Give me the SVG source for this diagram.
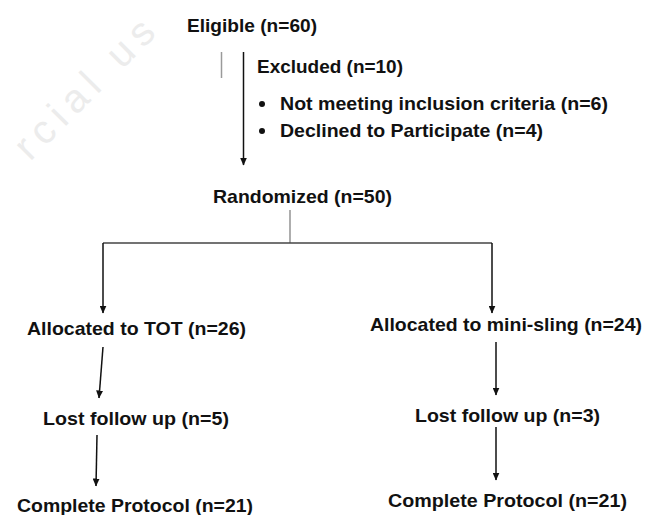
<svg xmlns="http://www.w3.org/2000/svg" width="647" height="515" viewBox="0 0 647 515">
  <style>
    .t { font-family: "Liberation Sans", Arial, sans-serif; font-weight: bold; font-size: 19px; fill: #111; }
    .wm { font-family: "Liberation Sans", Arial, sans-serif; font-size: 40px; fill: #ececec; }
    .ar { stroke: #111; stroke-width: 1.5; fill: none; marker-end: url(#ah); }
  </style>
  <defs>
    <marker id="ah" markerUnits="userSpaceOnUse" markerWidth="8" markerHeight="7" refX="7.5" refY="3.5" orient="auto">
      <path d="M0,0 L8,3.5 L0,7 z" fill="#111"/>
    </marker>
  </defs>
  <rect width="647" height="515" fill="#fff"/>
  <text class="wm" x="30" y="162" textLength="180" lengthAdjust="spacing" transform="rotate(-45 30 162)">rcial us</text>

  <g id="connectors">
    <path d="M221.5,52 L221.5,78" stroke="#9a9a9a" stroke-width="1.5" fill="none"/>
    <path class="ar" d="M243.5,52 L243.5,165"/>
    <path d="M290,210 L290,243" stroke="#777" stroke-width="1.2" fill="none"/>
    <path d="M103,243 L492,243" stroke="#444" stroke-width="1.3" fill="none"/>
    <path class="ar" d="M103,243 L103,313"/>
    <path class="ar" d="M492,243 L492,313"/>
    <path class="ar" d="M103,347 L99,398"/>
    <path class="ar" d="M97,435 L96,486"/>
    <path class="ar" d="M496,342 L496,395"/>
    <path class="ar" d="M496,427 L496,480"/>
  </g>

  <g id="eligible"><text class="t" x="187" y="32" textLength="130" lengthAdjust="spacingAndGlyphs">Eligible (n=60)</text></g>
  <g id="excluded">
    <text class="t" x="257" y="73" textLength="146" lengthAdjust="spacingAndGlyphs">Excluded (n=10)</text>
    <circle cx="262" cy="104" r="3" fill="#111"/>
    <text class="t" x="280" y="110" textLength="328" lengthAdjust="spacingAndGlyphs">Not meeting inclusion criteria (n=6)</text>
    <circle cx="262" cy="131" r="3" fill="#111"/>
    <text class="t" x="280" y="137" textLength="263" lengthAdjust="spacingAndGlyphs">Declined to Participate (n=4)</text>
  </g>
  <g id="randomized"><text class="t" x="213" y="203" textLength="179" lengthAdjust="spacingAndGlyphs">Randomized (n=50)</text></g>
  <g id="alloc-tot"><text class="t" x="27" y="335" textLength="219" lengthAdjust="spacingAndGlyphs">Allocated to TOT (n=26)</text></g>
  <g id="lost-tot"><text class="t" x="43" y="425" textLength="186" lengthAdjust="spacingAndGlyphs">Lost follow up (n=5)</text></g>
  <g id="complete-tot"><text class="t" x="17" y="512" textLength="236" lengthAdjust="spacingAndGlyphs">Complete Protocol (n=21)</text></g>
  <g id="alloc-mini"><text class="t" x="370" y="331" textLength="272" lengthAdjust="spacingAndGlyphs">Allocated to mini-sling (n=24)</text></g>
  <g id="lost-mini"><text class="t" x="415" y="422" textLength="185" lengthAdjust="spacingAndGlyphs">Lost follow up (n=3)</text></g>
  <g id="complete-mini"><text class="t" x="388" y="507" textLength="239" lengthAdjust="spacingAndGlyphs">Complete Protocol (n=21)</text></g>
</svg>
